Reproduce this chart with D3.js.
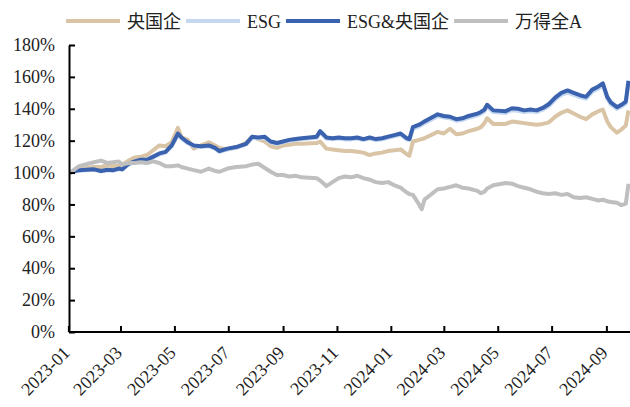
<!DOCTYPE html>
<html>
<head>
<meta charset="utf-8">
<script src="https://cdn.jsdelivr.net/npm/d3@7"></script>
<style>
  body { margin: 0; background: #fff; }
  svg text { font-family: "Liberation Serif", "Noto Sans CJK SC", serif; fill: #222; }
</style>
</head>
<body>
<svg id="chart" width="630" height="407"></svg>
<script>
// weekly-ish samples (values in %)
var dates = [
  "2023-01-03","2023-01-13","2023-01-30","2023-02-07","2023-02-14","2023-02-21","2023-02-27","2023-03-03","2023-03-10","2023-03-17",
  "2023-03-24","2023-03-31","2023-04-07","2023-04-14","2023-04-21","2023-04-28","2023-05-05","2023-05-09","2023-05-16","2023-05-23",
  "2023-05-31","2023-06-09","2023-06-16","2023-06-21","2023-06-30","2023-07-10","2023-07-21","2023-07-28","2023-08-04","2023-08-11",
  "2023-08-18","2023-08-25","2023-09-01","2023-09-08","2023-09-15","2023-09-22","2023-10-09","2023-10-13","2023-10-20","2023-10-27",
  "2023-11-03","2023-11-10","2023-11-17","2023-11-24","2023-12-01","2023-12-08","2023-12-15","2023-12-22","2023-12-29","2024-01-05",
  "2024-01-12","2024-01-19","2024-01-22","2024-01-26","2024-02-02","2024-02-05","2024-02-08","2024-02-23","2024-03-01","2024-03-08",
  "2024-03-15","2024-03-22","2024-03-29","2024-04-08","2024-04-12","2024-04-16","2024-04-19","2024-04-26","2024-05-10","2024-05-17",
  "2024-05-24","2024-05-31","2024-06-07","2024-06-14","2024-06-21","2024-06-28","2024-07-05","2024-07-12","2024-07-19","2024-07-26",
  "2024-08-02","2024-08-09","2024-08-16","2024-08-23","2024-08-28","2024-09-02","2024-09-06","2024-09-13","2024-09-18","2024-09-23","2024-09-26"
];

var soe = [
  100,102,103.5,103.5,104.5,104,104.5,105,107.5,109.5,
  110,111,114,117,116.5,119,128,122,120.5,115,
  117,119,117,115.5,114.5,116,118.5,122.5,121,119.5,
  116.5,115.5,117,117.5,118,118,118.5,119.5,115,114.5,
  114,113.5,113.5,113,112.5,111,112,112.5,113.5,114,
  114.5,111.5,110.5,119.5,120.5,121,121.5,125.5,124.5,127.5,
  124,124.5,126,127.5,128.5,131,134,130.5,130.5,132,
  131.5,131,130.5,130,130.5,131.5,135,137.5,139,137,
  135,133.5,136.5,138.5,139.5,132,128.5,125,127,129.5,139
];

var esg = [
  100,101.2,101.7,100.6,101.4,101.2,102.1,101.7,105,106.5,
  107.5,107.6,109.5,111.4,112.5,116.4,123.7,121.4,118.5,116.6,
  116,116.5,115,113,114.5,115.5,117.5,121.8,121.4,121.8,
  119,118,119,120,120.4,121,121.8,125.3,121.3,120.8,
  121.3,120.8,120.8,121.3,120.4,121.3,120.3,120.8,121.8,122.7,
  123.7,120.8,120.3,127.6,129,130,131,135.4,134.5,134,
  132.5,133,134.4,135.9,136.9,138.4,141.3,137.9,137.4,139.1,
  138.8,137.9,138.4,137.9,139.4,141.8,145.8,148.7,150.2,148.7,
  147.3,146.3,150.7,152.6,154.6,146.3,142.8,139.9,141.4,143.3,156.3
];

var esgSoe = [
  100,101.5,102,101,101.8,101.5,102.5,102,105.5,107,
  108,108,110,112,113,117,124.5,122,119,117,
  116.5,117,115.5,113.5,115,116,118,122.5,122,122.5,
  119.5,118.5,119.5,120.5,121,121.5,122.5,126,122,121.5,
  122,121.5,121.5,122,121,122,121,121.5,122.5,123.5,
  124.5,121.5,121,128.5,130,131,132,136.5,135.5,135,
  133.5,134,135.5,137,138,139.5,142.5,139,138.5,140.3,
  140,139,139.5,139,140.5,143,147,150,151.5,150,
  148.5,147.5,152,154,156,147.5,144,141,142.5,144.5,157.5
];

var windA = [
  100,104,106.5,107.5,106,106.5,107,105,106,106,
  106.5,106,107,106,104,104,104.5,103.5,102.5,101.5,
  100.5,102.5,101,100.5,102.5,103.5,104,105,105.5,103,
  100.5,98.5,98.5,97.5,98,97,96.5,95,91.5,94,
  96.5,97.5,97,98,96.5,95.5,94,93.5,94,92,
  90.5,87.5,86.5,86,80,77,83,89.5,90,91,
  92,90.5,90,88.5,87,88,90,92,93.5,93,
  91.5,90.5,89.5,88,87,86.5,87,86,86.5,84.5,
  84,84.5,83.5,82.5,83,82,81.5,81,79.5,80.5,93
];

var seriesNames = ["央国企", "ESG", "ESG&央国企", "万得全A"];
var seriesColors = ["#D9C4A6", "#C5D8F0", "#3A62AE", "#BFBFBF"];
var yTicks = [0, 20, 40, 60, 80, 100, 120, 140, 160, 180];
var xTickLabels = ["2023-01","2023-03","2023-05","2023-07","2023-09","2023-11",
                   "2024-01","2024-03","2024-05","2024-07","2024-09"];

var parse = d3.timeParse("%Y-%m-%d");
var parseMonth = d3.timeParse("%Y-%m");
var svg = d3.select("#chart");

var x = d3.scaleTime()
    .domain([parse("2023-01-01"), parse("2024-09-30")])
    .range([68.4, 632]);
var y = d3.scaleLinear()
    .domain([0, 180])
    .range([332, 45]);

var allSeries = [soe, esg, esgSoe, windA].map((vals, i) => ({
  name: seriesNames[i],
  color: seriesColors[i],
  values: vals.map((v, j) => ({date: parse(dates[j]), value: v}))
}));

var line = d3.line()
    .x(d => x(d.date))
    .y(d => y(d.value));

svg.selectAll("path.series")
    .data(allSeries)
  .enter().append("path")
    .attr("class", "series")
    .attr("fill", "none")
    .attr("stroke", d => d.color)
    .attr("stroke-width", 4)
    .attr("stroke-linejoin", "round")
    .attr("d", d => line(d.values));

// y axis, ticks point into the plot
var yAxis = svg.append("g")
    .attr("transform", "translate(69,0)")
    .call(d3.axisLeft(y).tickValues(yTicks).tickSize(-6).tickSizeOuter(0).tickPadding(14)
      .tickFormat(d => d + "%"));
yAxis.selectAll("text").style("font-size", "18px");

var xAxis = svg.append("g")
    .attr("transform", "translate(0,332)")
    .call(d3.axisBottom(x).tickValues(xTickLabels.map(parseMonth)).tickSize(-6).tickSizeOuter(0)
      .tickFormat(d3.timeFormat("%Y-%m")));
xAxis.selectAll("text")
    .style("font-size", "18px")
    .attr("text-anchor", "end")
    .attr("dy", null)
    .attr("y", 0)
    .attr("transform", "translate(2,22) rotate(-45)");

svg.selectAll(".domain, .tick line")
    .attr("stroke", "#000")
    .attr("stroke-width", 2);
xAxis.select(".domain").attr("d", "M69,0H630");

// legend across the top
var legend = svg.append("g").attr("transform", "translate(66,21)");
var lx = 0;
allSeries.forEach(s => {
  legend.append("line")
      .attr("x1", lx).attr("x2", lx + 54)
      .attr("y1", 0).attr("y2", 0)
      .attr("stroke", s.color)
      .attr("stroke-width", 4);
  var t = legend.append("text")
      .attr("x", lx + 61)
      .attr("y", 6.5)
      .style("font-size", "18px")
      .text(s.name);
  lx += 61 + t.node().getComputedTextLength() + 5;
});
</script>
</body>
</html>
